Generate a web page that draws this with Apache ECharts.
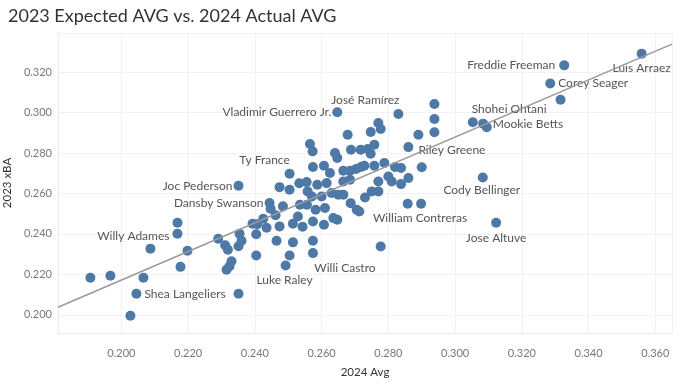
<!DOCTYPE html>
<html>
<head>
<meta charset="utf-8">
<script src="https://cdn.jsdelivr.net/npm/echarts@6/dist/echarts.min.js"></script>
<style>html,body{margin:0;padding:0;background:#fff}#c{width:686px;height:389px}</style>
</head>
<body>
<div id="c"></div>
<script>
// Labeled players: 2024 AVG (x) and 2023 xBA (y)
const labeledNames = ['Luis Arraez','Freddie Freeman','Corey Seager','Shohei Ohtani','Mookie Betts','José Ramírez','Vladimir Guerrero Jr.','Riley Greene','Ty France','Joc Pederson','Dansby Swanson','Cody Bellinger','William Contreras','Willy Adames','Jose Altuve','Willi Castro','Luke Raley','Shea Langeliers'];
const labeledX = [0.3559,0.3327,0.3285,0.3084,0.3095,0.2830,0.2647,0.2860,0.2504,0.2351,0.2444,0.3083,0.2898,0.2168,0.3123,0.2574,0.2492,0.2045];
const labeledY = [0.3291,0.3233,0.3143,0.2945,0.2927,0.2993,0.3001,0.2829,0.2697,0.2638,0.2553,0.2679,0.2549,0.2401,0.2455,0.2305,0.2244,0.2104];

// Other players
const otherX = [0.1907,0.1967,0.2027,0.2066,0.2087,0.2168,0.2198,0.2177,0.2290,0.2311,0.2319,0.2330,0.2324,0.2315,0.2351,0.2354,0.2360,0.2351,
  0.2393,0.2407,0.2425,0.2435,0.2404,0.2462,0.2447,0.2404,0.2474,0.2504,0.2533,0.2555,0.2587,0.2615,0.2558,0.2571,0.2600,0.2630,
  0.2484,0.2535,0.2556,0.2582,0.2610,0.2529,0.2514,0.2543,0.2574,0.2607,0.2635,0.2573,0.2607,0.2574,0.2640,0.2647,0.2565,0.2625,
  0.2474,0.2465,0.2514,0.2574,0.2504,
  0.2938,0.2938,0.2938,0.2770,0.2777,0.2747,0.2678,0.2890,0.2688,0.2717,0.2738,0.2747,0.2758,0.2665,0.2685,0.2703,0.2718,0.2728,
  0.2758,0.2788,0.2820,0.2838,0.2900,0.2665,0.2685,0.2650,0.2665,0.2770,0.2770,0.2750,0.2730,0.2800,0.2810,0.2838,0.2860,0.2687,
  0.2713,0.2705,0.2647,0.2858,0.2777,0.3053,0.3316];
const otherY = [0.2183,0.2193,0.1995,0.2183,0.2327,0.2455,0.2317,0.2237,0.2376,0.2344,0.2322,0.2265,0.2240,0.2223,0.2104,0.2401,0.2366,0.2339,
  0.2450,0.2448,0.2475,0.2430,0.2398,0.2492,0.2524,0.2293,0.2631,0.2618,0.2650,0.2656,0.2643,0.2651,0.2610,0.2585,0.2585,0.2602,
  0.2536,0.2544,0.2544,0.2519,0.2528,0.2486,0.2450,0.2435,0.2461,0.2445,0.2478,0.2808,0.2737,0.2731,0.2800,0.2775,0.2844,0.2701,
  0.2437,0.2366,0.2358,0.2366,0.2293,
  0.3042,0.2968,0.2902,0.2948,0.2918,0.2904,0.2890,0.2890,0.2816,0.2816,0.2820,0.2796,0.2841,0.2712,0.2712,0.2721,0.2731,0.2737,
  0.2737,0.2750,0.2731,0.2726,0.2729,0.2659,0.2668,0.2594,0.2594,0.2659,0.2610,0.2610,0.2580,0.2684,0.2659,0.2646,0.2676,0.2552,
  0.2511,0.2519,0.2470,0.2549,0.2338,0.2952,0.3063];

// Trend line end points
const trendX = [0.181, 0.365];
const trendY = [0.2037, 0.3338];

// Label placement (style): offset of label anchor from the dot centre, and text alignment
const labelPlace = {
  'Luis Arraez':[0,14,'center'],
  'Freddie Freeman':[-9,0,'right'],
  'Corey Seager':[8,0,'left'],
  'Shohei Ohtani':[26,-15,'center'],
  'Mookie Betts':[6,-3,'left'],
  'José Ramírez':[-33,-14,'center'],
  'Vladimir Guerrero Jr.':[-6,0,'right'],
  'Riley Greene':[10,3,'left'],
  'Ty France':[-25,-14,'center'],
  'Joc Pederson':[-6,0,'right'],
  'Dansby Swanson':[-6,0,'right'],
  'Cody Bellinger':[-1,13,'center'],
  'William Contreras':[-1,14,'center'],
  'Willy Adames':[-8,2,'right'],
  'Jose Altuve':[0,15,'center'],
  'Willi Castro':[32,15,'center'],
  'Luke Raley':[-1,15,'center'],
  'Shea Langeliers':[8,0,'left']
};

const F = 'Lato, "Open Sans", sans-serif';
const SYM = 10;
const chart = echarts.init(document.getElementById('c'));
const labeledData = labeledNames.map((n,i)=>{
  const p = labelPlace[n];
  return {
    name:n, value:[labeledX[i], labeledY[i]],
    label:{show:true, formatter:n, position:[SYM/2 + p[0], SYM/2 + p[1]], align:p[2], verticalAlign:'middle'}
  };
});
const otherData = otherX.map((x,i)=>[x, otherY[i]]);
const trendData = trendX.map((x,i)=>[x, trendY[i]]);

const axisCommon = {
  type:'value',
  splitNumber: 8,
  minInterval: 0.02,
  maxInterval: 0.02,
  axisLine:{show:true, lineStyle:{color:'#ececec'}},
  axisTick:{show:false},
  splitLine:{show:true, lineStyle:{color:'#f2f2f2', width:1}},
  axisLabel:{color:'#777', fontSize:11, fontFamily:F, formatter:v=>v.toFixed(3), showMinLabel:false, showMaxLabel:false},
  nameTextStyle:{color:'#333', fontSize:11.5, fontFamily:F}
};

chart.setOption({
  animation:false,
  backgroundColor:'#fff',
  title:{text:'2023 Expected AVG vs. 2024 Actual AVG', left:3, top:2,
    textStyle:{fontFamily:F, fontSize:18, fontWeight:'normal', color:'#333'}},
  grid:{left:58, right:14, top:33, bottom:56, containLabel:false, outerBoundsMode:'none'},
  xAxis:Object.assign({}, axisCommon, {min:0.181, max:0.365, name:'2024 Avg', nameLocation:'middle', nameGap:33,
    axisLabel:Object.assign({}, axisCommon.axisLabel, {margin:15})}),
  yAxis:Object.assign({}, axisCommon, {min:0.191, max:0.3393, name:'2023 xBA', nameLocation:'middle', nameGap:41,
    axisLabel:Object.assign({}, axisCommon.axisLabel, {margin:6})}),
  series:[
    {type:'scatter', data:otherData, symbolSize:SYM, itemStyle:{color:'#4e79a7', opacity:1}, z:2, silent:true},
    {type:'scatter', data:labeledData, symbolSize:SYM, itemStyle:{color:'#4e79a7', opacity:1}, z:2, silent:true,
      label:{color:'#555', fontSize:12, fontFamily:F}, labelLayout:{hideOverlap:false}},
    {type:'line', data:trendData, symbol:'none', lineStyle:{color:'#9a9a9a', width:1.6}, z:5, silent:true}
  ]
});
</script>
</body>
</html>
